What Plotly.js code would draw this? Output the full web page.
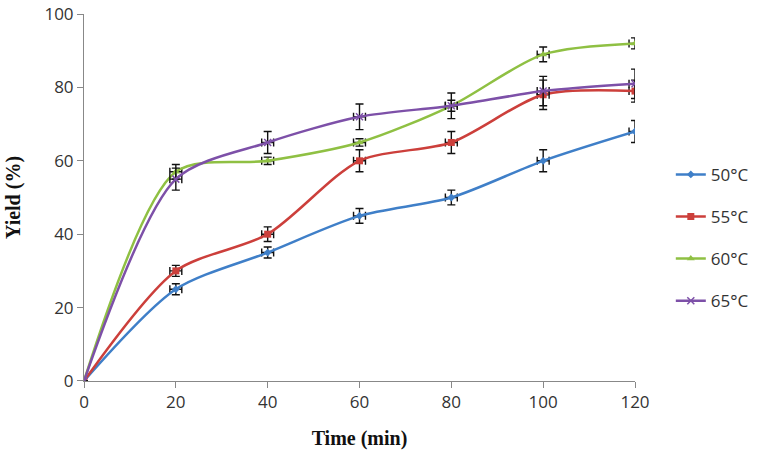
<!DOCTYPE html>
<html>
<head>
<meta charset="utf-8">
<script src="https://cdn.plot.ly/plotly-3.0.1.min.js"></script>
<style>
  html, body { margin: 0; padding: 0; background: #fff; }
  #chart { width: 780px; height: 458px; }
</style>
</head>
<body>
<div id="chart"></div>
<script>
// time points (min)
const time = [0, 20, 40, 60, 80, 100, 120];

// yield (%) per temperature
const y50 = [0, 25, 35, 45, 50, 60, 68];
const y55 = [0, 30, 40, 60, 65, 78, 79];
const y60 = [0, 57, 60, 65, 75, 89, 92];
const y65 = [0, 55, 65, 72, 75, 79, 81];

// error bars (y)
const e50 = [0, 1.5, 1.5, 2, 2, 3, 3];
const e55 = [0, 1.5, 2, 3, 3, 4, 3];
const e60 = [0, 2, 1, 1, 1.5, 2, 1.5];
const e65 = [0, 3, 3, 3.5, 3.5, 4, 4];
const ex = [0, 1.3, 1.3, 1.3, 1.3, 1.3, 1.3];

const names = ['50°C', '55°C', '60°C', '65°C'];
const colors = ['#3f7fc8', '#cc3f3b', '#8fc043', '#7d50a8'];
const symbols = ['diamond', 'square', 'triangle-up', 'x-thin-open'];

const ys = [y50, y55, y60, y65];
const errs = [e50, e55, e60, e65];

const traces = ys.map((y, i) => ({
  x: time,
  y: y,
  name: names[i],
  legendgroup: 'g' + i,
  type: 'scatter',
  mode: 'lines+markers',
  line: { color: colors[i], width: 2.5, shape: 'spline', smoothing: 0.8 },
  marker: {
    color: colors[i],
    size: i === 0 ? 6 : 7,
    symbol: symbols[i],
    line: { color: colors[i], width: i === 3 ? 1.5 : 0 }
  },
  error_y: { type: 'data', array: errs[i], color: '#111', thickness: 1.4, width: 4 },
  error_x: { type: 'data', array: ex, color: '#111', thickness: 1.4, width: 4 }
}));

const layout = {
  width: 780,
  height: 458,
  margin: { l: 84, r: 145, t: 14, b: 77 },
  paper_bgcolor: '#fff',
  plot_bgcolor: '#fff',
  font: { family: 'Open Sans, Liberation Sans, sans-serif', size: 17, color: '#333' },
  showlegend: true,
  legend: {
    x: 1.065, xanchor: 'left',
    y: 0.39, yanchor: 'middle',
    font: { size: 17, color: '#333' },
    tracegroupgap: 17,
    bgcolor: 'rgba(0,0,0,0)'
  },
  xaxis: {
    range: [0, 120],
    tickvals: time,
    ticks: 'outside', ticklen: 6, tickcolor: '#888',
    showline: true, linecolor: '#888', linewidth: 1,
    showgrid: false, zeroline: false,
    tickfont: { size: 17 },
    title: {
      text: '<b>Time (min)</b>',
      font: { family: 'Liberation Serif, Times New Roman, serif', size: 20, color: '#111' },
      standoff: 18
    }
  },
  yaxis: {
    range: [-0.01, 100.01],
    tickvals: [0, 20, 40, 60, 80, 100],
    ticks: 'outside', ticklen: 6, tickcolor: '#888',
    showline: true, linecolor: '#888', linewidth: 1,
    showgrid: false, zeroline: false,
    ticklabeloverflow: 'allow',
    tickfont: { size: 17 },
    title: {
      text: '<b>Yield (%)</b>',
      font: { family: 'Liberation Serif, Times New Roman, serif', size: 20, color: '#111' },
      standoff: 18
    }
  }
};

Plotly.newPlot('chart', traces, layout, { displayModeBar: false, staticPlot: true });
</script>
</body>
</html>
